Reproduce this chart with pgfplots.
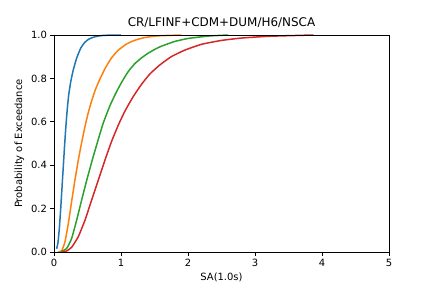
\documentclass[border=0pt]{standalone}
\usepackage{pgfplots}
\pgfplotsset{compat=1.18}
\usepackage{fontspec}
\setmainfont{DejaVu Sans}
\definecolor{c0}{HTML}{1F77B4}
\definecolor{c1}{HTML}{FF7F0E}
\definecolor{c2}{HTML}{2CA02C}
\definecolor{c3}{HTML}{D62728}
\begin{document}
\begin{tikzpicture}
\useasboundingbox (-54bp,-36bp) rectangle (378bp,252bp);
\begin{axis}[
  at={(0,0)}, anchor=south west,
  scale only axis, width=335bp, height=217bp,
  xmin=0, xmax=5, ymin=0, ymax=1,
  xtick={0,1,2,3,4,5},
  ytick={0,0.2,0.4,0.6,0.8,1.0},
  yticklabel style={/pgf/number format/.cd,fixed,fixed zerofill,precision=1},
  /pgf/number format/assume math mode=true,
  tick pos=left, tick align=outside,
  major tick length=3.5bp,
  every tick/.style={line width=0.8bp, black},
  axis line style={line width=0.8bp},
  tick label style={font=\fontsize{10}{12}\selectfont},
  label style={font=\fontsize{10}{12}\selectfont},
  title style={font=\fontsize{12}{14}\selectfont, yshift=-2bp},
  title={CR/LFINF+CDM+DUM/H6/NSCA},
  xlabel={SA(1.0s)},
  ylabel={Probability of Exceedance},
  axis on top,
  every axis plot/.append style={line width=1.5bp, line join=round},
]
\addplot[c0, smooth, tension=0.3] coordinates {
(0.04,0.015)(0.06,0.045)(0.08,0.11)(0.10,0.2)(0.12,0.3)(0.14,0.4)(0.16,0.5)(0.18,0.59)(0.20,0.665)(0.22,0.725)(0.25,0.785)(0.29,0.842)(0.34,0.895)(0.40,0.94)(0.46,0.966)(0.52,0.981)(0.60,0.991)(0.70,0.997)(0.80,0.999)(1.0,1.0)
};
\addplot[c1, smooth, tension=0.3] coordinates {
(0.06,0.0)(0.115,0.006)(0.164,0.047)(0.214,0.132)(0.264,0.235)(0.313,0.332)(0.363,0.424)(0.41,0.5)(0.46,0.575)(0.51,0.64)(0.56,0.695)(0.62,0.75)(0.69,0.80)(0.77,0.85)(0.86,0.895)(0.96,0.93)(1.08,0.958)(1.2,0.975)(1.35,0.988)(1.55,0.996)(1.9,1.0)
};
\addplot[c2, smooth, tension=0.3] coordinates {
(0.1,0.0)(0.19,0.017)(0.264,0.063)(0.338,0.147)(0.413,0.24)(0.488,0.33)(0.572,0.425)(0.662,0.52)(0.736,0.595)(0.836,0.675)(0.92,0.73)(1.0,0.777)(1.1,0.828)(1.2,0.866)(1.3,0.893)(1.4,0.915)(1.5,0.933)(1.6,0.948)(1.8,0.97)(2.0,0.984)(2.3,0.995)(2.6,1.0)
};
\addplot[c3, smooth, tension=0.3] coordinates {
(0.12,0.0)(0.19,0.005)(0.264,0.022)(0.363,0.071)(0.463,0.147)(0.562,0.24)(0.662,0.332)(0.761,0.424)(0.86,0.51)(0.96,0.585)(1.06,0.65)(1.18,0.715)(1.30,0.77)(1.43,0.82)(1.58,0.862)(1.75,0.9)(1.95,0.93)(2.2,0.957)(2.5,0.975)(2.8,0.986)(3.2,0.994)(3.87,1.0)
};
\end{axis}
\end{tikzpicture}
\end{document}
